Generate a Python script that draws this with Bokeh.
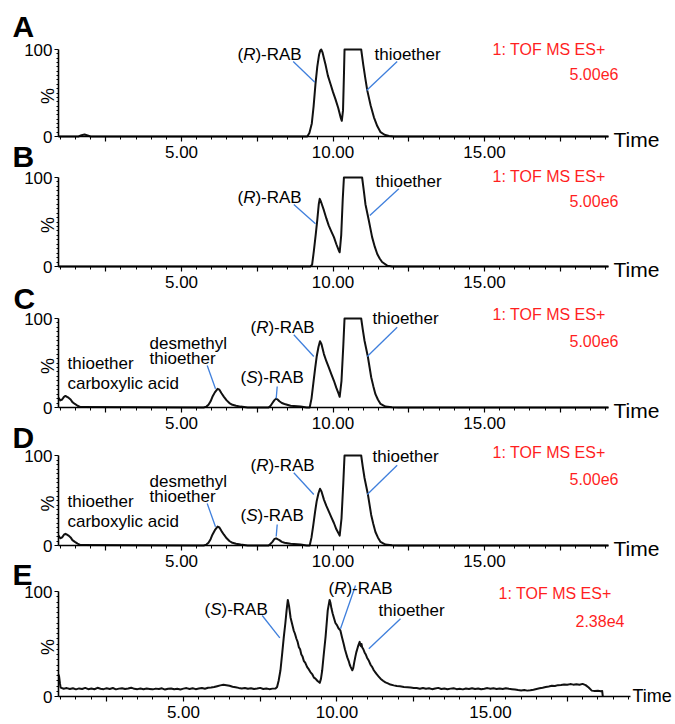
import math
from bokeh.plotting import figure
from bokeh.models import Range1d, FixedTicker, Label, LinearAxis
from bokeh.embed import file_html
from bokeh.resources import INLINE

FONT = "Liberation Sans"

# ---------------- data (retention time in min, relative intensity %) ----------------
a_time = [0.94, 1.60, 1.70, 1.80, 1.90, 2.00, 9.15, 9.22, 9.30, 9.36,
          9.42, 9.48, 9.54, 9.58, 9.61, 9.65, 9.70, 9.75, 9.83, 9.92,
          10.00, 10.08, 10.17, 10.25, 10.29, 10.33, 10.36, 10.38, 10.93, 11.00,
          11.07, 11.13, 11.24, 11.35, 11.46, 11.57, 11.70, 11.85, 12.00, 19.09]
a_pct = [0, 0, 1.5, 2.2, 1.2, 0, 0, 4, 15, 35,
         60, 80, 94, 99, 100, 97, 90, 83, 70, 60,
         51, 43, 33, 22, 18, 30, 70, 100, 100, 82,
         66, 53, 36, 22, 12, 5, 2, 0.7, 0, 0]

b_time = [0.94, 9.25, 9.31, 9.37, 9.43, 9.48, 9.53, 9.56, 9.60, 9.70,
          9.78, 9.86, 9.95, 10.03, 10.11, 10.19, 10.22, 10.27, 10.32, 10.36,
          10.96, 11.02, 11.07, 11.18, 11.29, 11.38, 11.46, 11.54, 11.62, 11.79,
          11.95, 19.09]
b_pct = [0, 0, 2, 18, 36, 52, 70, 76, 73, 63,
         54, 46, 39, 33, 25, 18, 16, 35, 75, 100,
         100, 84, 70, 52, 33, 22, 14, 9, 5, 1,
         0, 0]

c_time = [0.94, 1.00, 1.06, 1.12, 1.17, 1.22, 1.27, 1.34, 1.40, 1.48,
          1.57, 1.67, 5.73, 5.82, 5.89, 5.96, 6.02, 6.10, 6.19, 6.25,
          6.32, 6.40, 6.49, 6.58, 6.68, 6.80, 6.95, 7.18, 7.87, 7.94,
          8.00, 8.06, 8.12, 8.17, 8.23, 8.31, 8.40, 8.60, 8.93, 9.13,
          9.23, 9.29, 9.35, 9.41, 9.46, 9.52, 9.57, 9.62, 9.70, 9.78,
          9.86, 9.95, 10.03, 10.11, 10.19, 10.22, 10.28, 10.34, 10.38, 10.93,
          10.98, 11.04, 11.15, 11.26, 11.33, 11.40, 11.48, 11.57, 11.73, 11.95,
          12.17, 19.09]
c_pct = [11, 8, 9, 12, 13, 12, 11, 9, 6, 4,
         2, 0.5, 0, 1, 3, 7, 12, 17, 21, 20,
         16, 12, 8, 5, 3, 2, 1, 0, 0, 2,
         5, 8, 10, 9, 7, 5, 4, 2, 1, 0,
         0, 10, 27, 44, 57, 68, 74.5, 71, 60, 52,
         45, 37, 30, 22, 15, 12, 30, 70, 100, 100,
         88, 75, 57, 34, 24, 15, 9, 4, 1, 0.3,
         0, 0]

d_time = [0.94, 1.00, 1.06, 1.12, 1.17, 1.22, 1.27, 1.34, 1.40, 1.48,
          1.57, 1.67, 5.73, 5.82, 5.89, 5.96, 6.02, 6.10, 6.19, 6.25,
          6.32, 6.40, 6.49, 6.58, 6.68, 6.80, 6.95, 7.18, 7.87, 7.94,
          8.00, 8.06, 8.12, 8.17, 8.23, 8.31, 8.40, 8.60, 8.93, 9.13,
          9.23, 9.29, 9.35, 9.41, 9.46, 9.52, 9.57, 9.62, 9.70, 9.78,
          9.86, 9.95, 10.03, 10.11, 10.19, 10.22, 10.28, 10.34, 10.38, 10.93,
          10.98, 11.04, 11.15, 11.26, 11.33, 11.40, 11.48, 11.57, 11.73, 11.95,
          12.17, 19.09]
d_pct = [11, 8, 9, 12, 13, 12, 11, 9, 6, 4,
         2, 0.5, 0, 1, 3, 7, 12, 17, 21, 20,
         16, 12, 8, 5, 3, 2, 1, 0, 0, 2,
         4, 7, 8, 7, 6, 4, 3, 2, 1, 0,
         0, 9, 23, 38, 49, 58, 63, 60, 51, 44,
         38, 31, 25, 18, 13, 11, 30, 70, 100, 100,
         88, 75, 57, 34, 24, 15, 9, 4, 1, 0.3,
         0, 0]

e_time = [0.93, 0.95, 0.98, 1.0, 1.1, 1.2, 1.3, 1.4, 1.5, 1.6,
          1.7, 1.8, 1.9, 2.0, 2.1, 2.2, 2.3, 2.4, 2.5, 2.6,
          2.7, 2.8, 2.9, 3.0, 3.1, 3.2, 3.3, 3.4, 3.5, 3.6,
          3.7, 3.8, 3.9, 4.0, 4.1, 4.2, 4.3, 4.4, 4.5, 4.6,
          4.7, 4.8, 4.9, 5.0, 5.1, 5.2, 5.3, 5.4, 5.5, 5.6,
          5.7, 5.8, 5.9, 6.0, 6.1, 6.2, 6.3, 6.4, 6.5, 6.6,
          6.7, 6.8, 6.9, 7.0, 7.1, 7.2, 7.3, 7.4, 7.5, 7.6,
          7.7, 7.8, 7.9, 8.0, 8.05, 8.10, 8.16, 8.22, 8.27, 8.32,
          8.36, 8.40, 8.44, 8.49, 8.54, 8.59, 8.63, 8.68, 8.72, 8.76,
          8.80, 8.84, 8.88, 8.92, 8.97, 9.03, 9.08, 9.14, 9.20, 9.25,
          9.30, 9.36, 9.40, 9.44, 9.48, 9.52, 9.57, 9.63, 9.70, 9.76,
          9.79, 9.82, 9.86, 9.90, 9.95, 10.00, 10.05, 10.11, 10.16, 10.22,
          10.26, 10.30, 10.34, 10.38, 10.42, 10.45, 10.50, 10.53, 10.56, 10.60,
          10.63, 10.66, 10.70, 10.74, 10.76, 10.78, 10.80, 10.82, 10.86, 10.90,
          10.94, 10.98, 11.04, 11.10, 11.15, 11.20, 11.25, 11.30, 11.36, 11.42,
          11.50, 11.58, 11.66, 11.74, 11.85, 11.95, 12.05, 12.18, 12.30, 12.40,
          12.50, 12.6, 12.7, 12.8, 12.9, 13.0, 13.1, 13.2, 13.3, 13.4,
          13.5, 13.6, 13.7, 13.8, 13.9, 14.0, 14.1, 14.2, 14.3, 14.4,
          14.5, 14.6, 14.7, 14.8, 14.9, 15.0, 15.1, 15.2, 15.3, 15.4,
          15.5, 15.6, 15.7, 15.8, 15.9, 16.0, 16.1, 16.2, 16.3, 16.4,
          16.5, 16.6, 16.7, 16.8, 16.9, 17.0, 17.1, 17.2, 17.3, 17.4,
          17.5, 17.6, 17.7, 17.8, 17.9, 18.0, 18.1, 18.2, 18.3, 18.4,
          18.5, 18.6, 18.64, 18.66]
e_pct = [21, 19, 12, 8.5, 7.4, 8.0, 7.2, 7.9, 6.8, 7.7,
         7.1, 8.2, 7.0, 7.6, 6.9, 8.3, 7.4, 7.0, 7.8, 7.2,
         8.1, 6.8, 7.5, 7.9, 7.1, 7.6, 8.4, 7.3, 7.0, 7.7,
         6.9, 7.6, 7.2, 6.8, 7.5, 7.1, 7.8, 6.6, 7.3, 7.7,
         6.9, 7.4, 6.7, 7.5, 8.0, 7.2, 7.9, 7.0, 7.6, 8.1,
         7.4, 8.3, 8.6, 9.0, 9.8, 10.6, 11.2, 10.7, 10.2, 9.3,
         8.9, 8.2, 7.7, 8.1, 7.3, 7.9, 7.1, 7.6, 8.2, 7.2,
         7.7, 7.0, 7.5, 7.6, 9.0, 15, 25, 42, 57, 70,
         82, 92, 86, 75, 69, 63, 60, 55, 52, 47,
         45, 40, 38, 34, 32, 28, 26, 23, 21, 18,
         17, 15, 14, 13, 17, 25, 40, 57, 82, 92,
         89, 84, 79, 75, 70, 68, 65, 63, 57, 50,
         45, 41, 37, 34, 30, 28, 25, 27, 32, 38,
         42, 45, 49, 52, 49, 48, 50, 47, 45, 42,
         40, 37, 34, 30, 28, 25, 23, 21, 19, 17,
         15, 13.5, 12.5, 11.4, 10.6, 10, 9.7, 9, 8.9, 8.6,
         8.2, 8.0, 7.4, 8.1, 7.3, 7.8, 7.0, 7.6, 8.2, 7.1,
         7.7, 6.9, 7.5, 7.9, 7.0, 7.4, 6.8, 7.6, 7.2, 7.9,
         7.1, 7.7, 6.9, 7.4, 8.0, 7.3, 7.8, 7.1, 7.7, 7.2,
         7.9, 7.3, 7.0, 6.6, 6.1, 5.8, 6.2, 5.6, 6.0, 6.5,
         7.2, 7.8, 8.4, 9.1, 9.6, 10.2, 10.0, 10.8, 11.0, 11.5,
         11.1, 11.8, 11.3, 11.7, 11.2, 12.0, 10.8, 8.5, 5.6, 5.2,
         5.4, 5.0, 5.2, 0]

x_tick_labels = {5.0: "5.00", 10.0: "10.00", 15.0: "15.00"}
instrument = "1: TOF MS ES+"
scales = {"A": "5.00e6", "B": "5.00e6", "C": "5.00e6", "D": "5.00e6", "E": "2.38e4"}

# ---------------- layout (canvas pixels, origin top-left) ----------------
W, H = 675, 724
LEFT = 58
geo = {
    "A": dict(top=49,  bot=136, right=608, t0=0.94, ppm=30.3, xr="t1", tmax=19.0),
    "B": dict(top=177, bot=266, right=608, t0=0.94, ppm=30.3, xr="t1", tmax=19.0),
    "C": dict(top=318, bot=407, right=608, t0=0.94, ppm=30.3, xr="t1", tmax=19.0),
    "D": dict(top=455, bot=545, right=608, t0=0.94, ppm=30.3, xr="t1", tmax=19.0),
    "E": dict(top=591, bot=696, right=630, t0=0.93, ppm=30.7, xr="t2", tmax=19.5),
}
series = {"A": (a_time, a_pct), "B": (b_time, b_pct), "C": (c_time, c_pct),
          "D": (d_time, d_pct), "E": (e_time, e_pct)}

BLUE = "#3f7fdc"
RED = "#ff1f1f"

p = figure(width=W, height=H, output_backend="svg", toolbar_location=None,
           x_range=Range1d(0, W), y_range=Range1d(H, 0),
           x_axis_type=None, y_axis_type=None,
           min_border_left=0, min_border_right=0, min_border_top=0, min_border_bottom=0)
p.title.visible = False
p.outline_line_color = None
p.background_fill_color = "white"
p.border_fill_color = "white"

for key, g in geo.items():
    h = g["bot"] - g["top"]
    p.extra_y_ranges[key] = Range1d((g["bot"] - H) / h * 100.0, g["bot"] / h * 100.0)
    if g["xr"] not in p.extra_x_ranges:
        p.extra_x_ranges[g["xr"]] = Range1d(g["t0"] - LEFT / g["ppm"],
                                            g["t0"] + (W - LEFT) / g["ppm"])


def to_data(g, x, y):
    t = g["t0"] + (x - LEFT) / g["ppm"]
    v = (g["bot"] - y) / (g["bot"] - g["top"]) * 100.0
    return t, v


def text(key, x, y, s, size, color="black", style="normal", align="left", angle=0.0):
    """y is the vertical centre of the text's capitals, in canvas pixels."""
    g = geo[key]
    t, v = to_data(g, x, y)
    p.add_layout(Label(x=t, y=v, x_range_name=g["xr"], y_range_name=key, text=s,
                       text_font=FONT, text_font_size=f"{size}px",
                       text_color=color, text_font_style=style, text_align=align,
                       text_baseline="middle", angle=angle))


def rab(key, x, y, letter, size=17):
    w_paren = 0.333 * size
    w_letter = (0.722 if letter == "R" else 0.667) * size
    text(key, x, y, "(", size)
    text(key, x + w_paren, y, letter, size, style="italic")
    text(key, x + w_paren + w_letter, y, ")-RAB", size)


def leader(key, x0, y0, x1, y1):
    g = geo[key]
    t0, v0 = to_data(g, x0, y0)
    t1, v1 = to_data(g, x1, y1)
    p.segment(x0=[t0], y0=[v0], x1=[t1], y1=[v1], x_range_name=g["xr"], y_range_name=key,
              line_color=BLUE, line_width=1.3)


for key, g in geo.items():
    t_end = g["t0"] + (g["right"] - LEFT) / g["ppm"]
    minor = [i * 0.5 for i in range(2, 40) if i * 0.5 <= g["tmax"]]
    xa = LinearAxis(x_range_name=g["xr"], y_range_name=key, fixed_location=0,
                    bounds=(g["t0"], t_end),
                    ticker=FixedTicker(ticks=[2.5, 5, 7.5, 10, 12.5, 15, 17.5],
                                       minor_ticks=minor))
    xa.major_label_overrides = {2.5: "", 5.0: x_tick_labels[5.0], 7.5: "",
                                10.0: x_tick_labels[10.0], 12.5: "",
                                15.0: x_tick_labels[15.0], 17.5: ""}
    xa.axis_line_width = 1.6
    xa.major_tick_out = 5
    xa.major_tick_in = 0
    xa.minor_tick_out = 3
    xa.minor_tick_in = 0
    xa.major_tick_line_width = 1.2
    xa.minor_tick_line_width = 1.0
    xa.major_label_standoff = 4
    xa.major_label_text_font = FONT
    xa.major_label_text_font_size = "17px"
    xa.major_label_text_color = "black"
    p.add_layout(xa, "below")

    ya = LinearAxis(x_range_name=g["xr"], y_range_name=key, fixed_location=g["t0"],
                    bounds=(0, 100),
                    ticker=FixedTicker(ticks=[0, 100], minor_ticks=list(range(5, 100, 5))))
    ya.axis_line_width = 1.6
    ya.major_tick_out = 4
    ya.major_tick_in = 0
    ya.minor_tick_out = 2
    ya.minor_tick_in = 0
    ya.major_label_standoff = 2
    ya.major_label_text_font = FONT
    ya.major_label_text_font_size = "17px"
    ya.major_label_text_color = "black"
    p.add_layout(ya, "left")

    t, v = series[key]
    p.line(t, v, x_range_name=g["xr"], y_range_name=key,
           line_color="#111111", line_width=2.0, line_join="round")

    text(key, 47, (g["top"] + g["bot"]) / 2 + 3, "%", 18, align="center", angle=math.pi / 2)
    if key == "E":
        text(key, 632, g["bot"] - 1, "Time", 18)
    else:
        text(key, 613, g["bot"] + 3, "Time", 21)

# panel letters
for key, x, y in [("A", 12, 26), ("B", 12, 156), ("C", 13, 297.5), ("D", 12, 436.5), ("E", 12, 573.5)]:
    text(key, x, y, key, 30, style="bold")

# instrument texts
for key, y1, y2, x1, x2 in [("A", 49, 73, 492, 569), ("B", 176, 200, 492, 569),
                            ("C", 314.3, 340, 492, 569), ("D", 452, 478, 492, 569),
                            ("E", 593.3, 620.7, 498, 575)]:
    text(key, x1, y1, instrument, 16, color=RED)
    text(key, x2, y2, scales[key], 16, color=RED)

# panel A
rab("A", 237, 54, "R")
text("A", 374, 54, "thioether", 17)
leader("A", 292.7, 61, 314.3, 81.7)
leader("A", 396.7, 61, 366, 90)

# panel B
rab("B", 237, 197, "R")
text("B", 375, 181, "thioether", 17)
leader("B", 293.3, 204, 315, 223.3)
leader("B", 398.3, 188.3, 369.3, 215)

# panels C and D
for key, dy in [("C", 0), ("D", 138)]:
    text(key, 67, 363 + dy, "thioether", 17)
    text(key, 67, 383 + dy, "carboxylic acid", 17)
    text(key, 149, 343 + dy, "desmethyl", 17)
    text(key, 149, 357.5 + dy, "thioether", 17)
    rab(key, 240, 377 + dy, "S")
    rab(key, 250, 326.5 + dy, "R")
    text(key, 372, 318.3 + dy, "thioether", 17)
    leader(key, 206.7, 365 + dy, 215, 388.3 + dy)
    leader(key, 276.7, 386 + dy, 275.7, 398 + dy)
    leader(key, 293.3, 334.3 + dy, 313.3, 356 + dy)
    leader(key, 396.7, 326.7 + dy, 366.7, 356 + dy)

# panel E
rab("E", 204, 608.5, "S")
rab("E", 328, 587.5, "R")
text("E", 378, 610.3, "thioether", 17)
leader("E", 261.7, 615, 279.3, 637.3)
leader("E", 355, 585, 340, 628.3)
leader("E", 400, 618.3, 368.3, 648.3)

open("out.html", "w").write(file_html(p, INLINE))
